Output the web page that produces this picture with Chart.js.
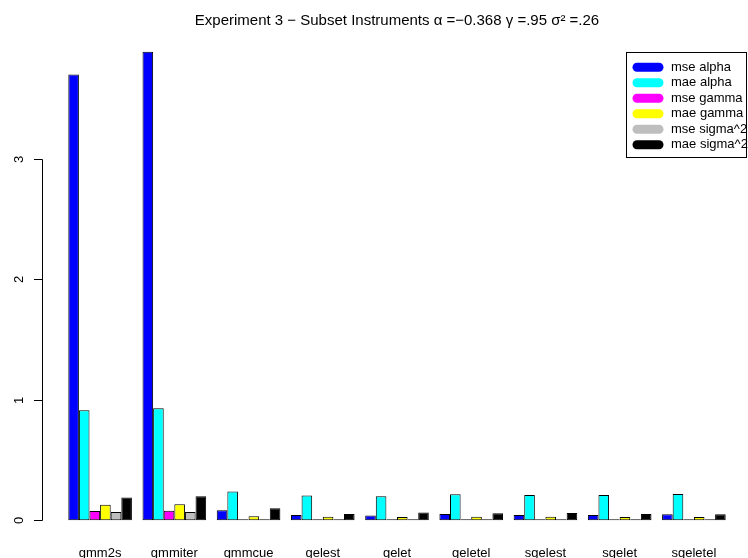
<!DOCTYPE html>
<html>
<head>
<meta charset="utf-8">
<script src="https://cdn.jsdelivr.net/npm/chart.js@4"></script>
<style>
  html, body { margin: 0; padding: 0; background: #fff; }
  canvas { display: block; }
</style>
</head>
<body>
<canvas id="c" width="748" height="558"></canvas>
<script>
const categories = ['gmm2s','gmmiter','gmmcue','gelest','gelet','geletel','sgelest','sgelet','sgeletel'];
const seriesLabels = ['mse alpha','mae alpha','mse gamma','mae gamma','mse sigma^2','mae sigma^2'];
const seriesColors = ['#0000FF','#00FFFF','#FF00FF','#FFFF00','#BEBEBE','#000000'];
const mseAlpha = [3.70, 3.89, 0.083, 0.044, 0.040, 0.052, 0.044, 0.044, 0.050];
const maeAlpha = [0.913, 0.930, 0.240, 0.207, 0.199, 0.216, 0.210, 0.210, 0.218];
const mseGamma = [0.077, 0.080, 0.003, 0.002, 0.002, 0.002, 0.002, 0.002, 0.002];
const maeGamma = [0.130, 0.133, 0.033, 0.030, 0.027, 0.030, 0.030, 0.027, 0.027];
const mseSigma = [0.069, 0.069, 0.002, 0.001, 0.001, 0.001, 0.001, 0.001, 0.001];
const maeSigma = [0.190, 0.200, 0.100, 0.052, 0.064, 0.058, 0.060, 0.052, 0.050];
const yTicks = [0, 1, 2, 3];
const titleText = 'Experiment 3 \u2212 Subset Instruments \u03B1 =\u22120.368 \u03B3 =.95 \u03C3\u00B2 =.26';

const FONT = "'Liberation Sans', Arial, Helvetica, sans-serif";
const allSeries = [mseAlpha, maeAlpha, mseGamma, maeGamma, mseSigma, maeSigma];

const datasets = allSeries.map((d, i) => ({
  label: seriesLabels[i],
  data: d,
  backgroundColor: seriesColors[i],
  borderColor: '#000',
  borderWidth: 1,
  borderSkipped: false,
  minBarLength: 1,
  categoryPercentage: 6/7,
  barPercentage: 1.0
}));

const decor = {
  id: 'decor',
  afterDraw(chart) {
    const ctx = chart.ctx;
    const y = chart.scales.y;
    const axX = 42;
    ctx.save();
    ctx.strokeStyle = '#000';
    ctx.lineWidth = 1;
    ctx.beginPath();
    ctx.moveTo(axX + 0.5, Math.round(y.getPixelForValue(yTicks[0])) + 0.5);
    ctx.lineTo(axX + 0.5, Math.round(y.getPixelForValue(yTicks[yTicks.length - 1])) + 0.5);
    ctx.stroke();
    ctx.fillStyle = '#000';
    ctx.font = '13px ' + FONT;
    ctx.textAlign = 'center';
    ctx.textBaseline = 'middle';
    yTicks.forEach(v => {
      const py = Math.round(y.getPixelForValue(v)) + 0.5;
      ctx.beginPath();
      ctx.moveTo(34, py);
      ctx.lineTo(axX + 0.5, py);
      ctx.stroke();
      ctx.save();
      ctx.translate(19, py);
      ctx.rotate(-Math.PI / 2);
      ctx.fillText(String(v), 0, 0);
      ctx.restore();
    });

    // legend
    const bx = 626, by = 52, bw = 120, bh = 105;
    ctx.fillStyle = '#fff';
    ctx.fillRect(bx, by, bw, bh);
    ctx.strokeStyle = '#000';
    ctx.strokeRect(bx + 0.5, by + 0.5, bw, bh);
    ctx.font = '13px ' + FONT;
    ctx.textAlign = 'left';
    ctx.textBaseline = 'middle';
    chart.data.datasets.forEach((ds, i) => {
      const ry = 67.3 + i * 15.5;
      ctx.strokeStyle = ds.backgroundColor;
      ctx.lineWidth = 9;
      ctx.lineCap = 'round';
      ctx.beginPath();
      ctx.moveTo(637, ry);
      ctx.lineTo(659, ry);
      ctx.stroke();
      ctx.fillStyle = '#000';
      ctx.fillText(ds.label, 671, ry);
    });
    ctx.restore();
  }
};

new Chart(document.getElementById('c'), {
  type: 'bar',
  data: { labels: categories, datasets },
  plugins: [decor],
  options: {
    responsive: false,
    animation: false,
    devicePixelRatio: 1,
    layout: { padding: { left: 63, right: 17, top: 0, bottom: 0 } },
    plugins: {
      legend: { display: false },
      tooltip: { enabled: false },
      title: {
        display: true,
        text: titleText,
        color: '#000',
        font: { family: FONT, size: 15, weight: 'normal', lineHeight: 1.2 },
        padding: { top: 12, bottom: 3 }
      }
    },
    scales: {
      x: {
        type: 'category',
        grid: { display: false, drawTicks: false },
        border: { display: false },
        ticks: { color: '#000', font: { family: FONT, size: 13 }, padding: 7, maxRotation: 0, autoSkip: false },
        afterFit: s => { s.height = 19; }
      },
      y: {
        min: -0.155,
        max: 4.045,
        grid: { display: false },
        border: { display: false },
        ticks: { display: false },
        afterFit: s => { s.width = 0; }
      }
    }
  }
});
</script>
</body>
</html>
